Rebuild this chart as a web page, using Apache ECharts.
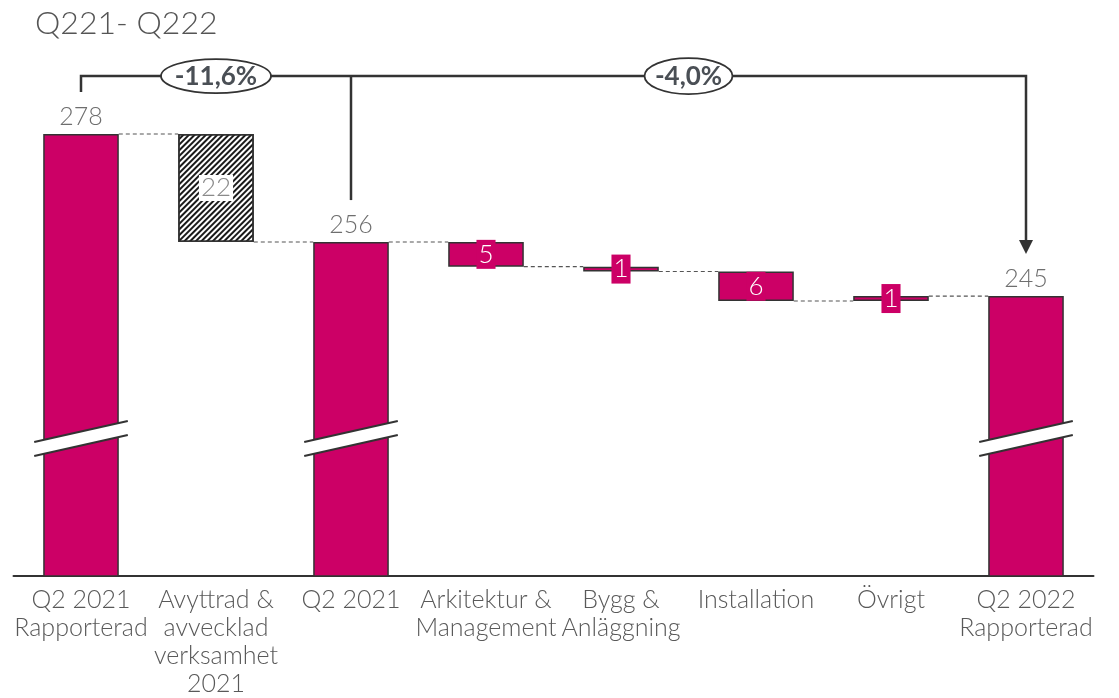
<!DOCTYPE html>
<html>
<head>
<meta charset="utf-8">
<script src="https://cdn.jsdelivr.net/npm/echarts@6/dist/echarts.min.js"></script>
<style>html,body{margin:0;padding:0;background:#fff;}#c{width:1119px;height:698px;}</style>
</head>
<body>
<div id="c"></div>
<script>
const categories = ['Q2 2021\nRapporterad', 'Avyttrad &\navvecklad\nverksamhet\n2021', 'Q2 2021', 'Arkitektur &\nManagement', 'Bygg &\nAnläggning', 'Installation', 'Övrigt', 'Q2 2022\nRapporterad'];
const values = [278, -22, 256, -5, -1, -6, 1, 245];
const kinds = ['total', 'divest', 'total', 'delta', 'delta', 'delta', 'delta', 'total'];
const changeLabels = ['-11,6%', '-4,0%'];
const titleText = 'Q221- Q222';

const MAGENTA = '#CC0066';
const DARK = '#333333';
const FONT = 'Lato, "Open Sans", sans-serif';
const breakValue = 216;

// running totals
const ends = [];
const starts = [];
let run = 0;
values.forEach((v, i) => {
  if (kinds[i] === 'total') { starts.push(0); run = v; }
  else { starts.push(run); run = run + v; }
  ends.push(run);
});
const baseData = values.map((v, i) => kinds[i] === 'total' ? 0 : Math.min(starts[i], ends[i]));
const valData = values.map((v, i) => {
  const item = { value: Math.abs(v) };
  if (kinds[i] === 'total') {
    item.label = { show: true, position: 'top', distance: 5, color: '#6e6e6e', fontSize: 25, fontFamily: FONT, fontWeight: 300, formatter: String(v) };
  } else if (kinds[i] === 'divest') {
    item.itemStyle = { color: '#ffffff', borderColor: DARK, borderWidth: 1.5,
      decal: { symbol: 'rect', symbolSize: 1, color: '#1a1a1a', dashArrayX: [1, 0], dashArrayY: [1.4, 1.9], rotation: -Math.PI / 4 } };
    item.label = { show: true, position: 'inside', color: '#8a8a8a', fontSize: 26, fontFamily: FONT, fontWeight: 300, backgroundColor: '#fff', padding: [0, 2], formatter: String(Math.abs(v)) };
  } else {
    item.label = { show: true, position: 'inside', color: '#fff', fontSize: 26, fontFamily: FONT, fontWeight: 300, backgroundColor: MAGENTA, padding: [1, 2], lineHeight: 27, formatter: String(Math.abs(v)) };
  }
  return item;
});
const connectorData = ends.slice(0, -1).map((lv, i) => [i, lv]);
const breakData = kinds.map((k, i) => k === 'total' ? [i, breakValue] : null).filter(Boolean);

const chart = echarts.init(document.getElementById('c'), null, { renderer: 'canvas' });
const BARFRAC = 0.56;

chart.setOption({
  animation: false,
  backgroundColor: '#fff',
  title: { text: titleText, left: 30, top: 3, textStyle: { fontSize: 32, fontWeight: 300, color: '#555', fontFamily: FONT } },
  grid: { left: 13.5, right: 25.5, top: 26, bottom: 121 },
  xAxis: {
    type: 'category', data: categories,
    axisLine: { lineStyle: { color: DARK, width: 2 } },
    axisTick: { show: false },
    axisLabel: { interval: 0, color: '#595959', fontSize: 25, lineHeight: 28, margin: 10, fontFamily: FONT, fontWeight: 300 }
  },
  yAxis: { type: 'value', min: 188, max: 300, show: false, splitLine: { show: false } },
  series: [
    { type: 'bar', stack: 'w', data: baseData, itemStyle: { color: 'transparent' }, barWidth: (BARFRAC * 100) + '%', silent: true },
    { type: 'bar', stack: 'w', data: valData, itemStyle: { color: MAGENTA, borderColor: DARK, borderWidth: 1.5 }, barWidth: (BARFRAC * 100) + '%' },
    {
      type: 'custom', data: connectorData, z: 1,
      renderItem: function (params, api) {
        const i = api.value(0), lv = api.value(1);
        const bw = api.size([1, 0])[0] * BARFRAC;
        const p1 = api.coord([i, lv]), p2 = api.coord([i + 1, lv]);
        return { type: 'line', shape: { x1: p1[0] + bw / 2, y1: p1[1], x2: p2[0] - bw / 2, y2: p2[1] },
          style: { stroke: '#555', lineWidth: 1.1, lineDash: [4, 3] } };
      }
    },
    {
      type: 'custom', data: breakData, z: 5,
      renderItem: function (params, api) {
        const i = api.value(0), v = api.value(1);
        const bw = api.size([1, 0])[0] * BARFRAC;
        const c = api.coord([i, v]);
        const hw = bw / 2 + 9, slope = 0.226, g = 7;
        const xl = c[0] - hw, xr = c[0] + hw;
        const yl = c[1] + slope * hw, yr = c[1] - slope * hw;
        return { type: 'group', children: [
          { type: 'polygon', shape: { points: [[xl, yl - g], [xr, yr - g], [xr, yr + g], [xl, yl + g]] }, style: { fill: '#fff' } },
          { type: 'line', shape: { x1: xl, y1: yl - g, x2: xr, y2: yr - g }, style: { stroke: DARK, lineWidth: 2 } },
          { type: 'line', shape: { x1: xl, y1: yl + g, x2: xr, y2: yr + g }, style: { stroke: DARK, lineWidth: 2 } }
        ] };
      }
    },
    {
      type: 'custom', data: [[0, values[0]]], z: 6,
      renderItem: function (params, api) {
        const a = api.coord([0, ends[0]]), b = api.coord([2, ends[2]]), c = api.coord([7, ends[7]]);
        const yTop = a[1] - 58;
        const tipY = c[1] - 42;
        const lineStyle = { stroke: DARK, lineWidth: 2.5, fill: null };
        const m1 = (a[0] + b[0]) / 2, m2 = (b[0] + c[0]) / 2;
        const txt = (x, t) => ({ type: 'text', style: { x: x, y: yTop + 1, text: t, align: 'center', verticalAlign: 'middle', fill: '#4a4f55', fontSize: 26, fontWeight: 'bold', fontFamily: FONT } });
        return { type: 'group', children: [
          { type: 'polyline', shape: { points: [[a[0], a[1] - 42], [a[0], yTop], [c[0], yTop], [c[0], tipY - 13]] }, style: lineStyle },
          { type: 'line', shape: { x1: b[0], y1: yTop, x2: b[0], y2: b[1] - 42 }, style: lineStyle },
          { type: 'polygon', shape: { points: [[c[0] - 7, tipY - 14], [c[0] + 7, tipY - 14], [c[0], tipY]] }, style: { fill: DARK } },
          { type: 'ellipse', shape: { cx: m1, cy: yTop, rx: 55, ry: 17 }, style: { fill: '#fff', stroke: DARK, lineWidth: 1.8 } },
          txt(m1, changeLabels[0]),
          { type: 'ellipse', shape: { cx: m2, cy: yTop, rx: 44, ry: 18 }, style: { fill: '#fff', stroke: DARK, lineWidth: 1.8 } },
          txt(m2, changeLabels[1])
        ] };
      }
    }
  ]
});
</script>
</body>
</html>
